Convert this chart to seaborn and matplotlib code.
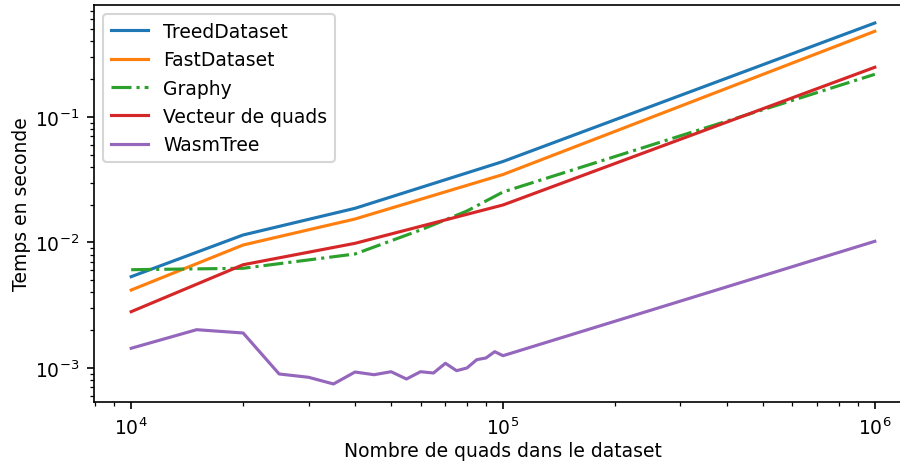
import numpy as np
import pandas as pd
import matplotlib
matplotlib.use("Agg")
import matplotlib.pyplot as plt
import seaborn as sns

# ---- data ----
x_main = [1e4, 2e4, 4e4, 1e5, 1e6]
treed = [0.00534, 0.01148, 0.01873, 0.0442, 0.561]
fast = [0.00418, 0.00955, 0.01539, 0.0348, 0.482]
vecteur = [0.00281, 0.00665, 0.00985, 0.0199, 0.249]

x_graphy = [1e4, 2e4, 4e4, 6e4, 8e4, 1e5, 1e6]
graphy = [0.00607, 0.00623, 0.0081, 0.01258, 0.01782, 0.02526, 0.2189]

x_wasm = [1e4, 1.5e4, 2e4, 2.5e4, 3e4, 3.5e4, 4e4, 4.5e4, 5e4, 5.5e4, 6e4,
          6.5e4, 7e4, 7.5e4, 8e4, 8.5e4, 9e4, 9.5e4, 1e5, 1e6]
wasm = [1.436e-3, 2.019e-3, 1.901e-3, 8.96e-4, 8.43e-4, 7.46e-4, 9.29e-4,
        8.84e-4, 9.34e-4, 8.17e-4, 9.34e-4, 9.12e-4, 1.090e-3, 9.52e-4,
        1.0e-3, 1.165e-3, 1.202e-3, 1.349e-3, 1.253e-3, 1.022e-2]

series = [
    ("TreedDataset", x_main, treed, "#1f77b4", "-"),
    ("FastDataset", x_main, fast, "#ff7f0e", "-"),
    ("Graphy", x_graphy, graphy, "#2ca02c", "-."),
    ("Vecteur de quads", x_main, vecteur, "#d62728", "-"),
    ("WasmTree", x_wasm, wasm, "#9467bd", "-"),
]

plt.rcParams["font.size"] = 9

fig = plt.figure(figsize=(6, 463 / 150), dpi=150)
# axes extends slightly past the right edge (reference is cropped there)
ax = fig.add_axes([94 / 900, (463 - 403) / 463, 818 / 900, 397 / 463])

for name, xs, ys, color, ls in series:
    df = pd.DataFrame({"x": xs, "y": ys})
    sns.lineplot(data=df, x="x", y="y", ax=ax, color=color, linestyle=ls,
                 label=name, linewidth=1.5)

ax.set_xscale("log")
ax.set_yscale("log")
ax.set_xlim(10 ** 3.9, 10 ** 6.1)
ax.set_ylim(10 ** -3.271, 10 ** -0.1076)
ax.set_xlabel("Nombre de quads dans le dataset", labelpad=1.5)
ax.set_ylabel("Temps en seconde", labelpad=2)
ax.legend(loc="upper left")

fig.savefig("out.png", dpi=150)
